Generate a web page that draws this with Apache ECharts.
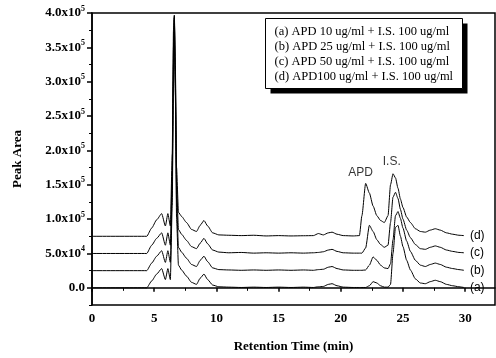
<!DOCTYPE html>
<html><head><meta charset="utf-8">
<script src="https://cdn.jsdelivr.net/npm/echarts@6/dist/echarts.min.js"></script>
<style>html,body{margin:0;padding:0;background:#fff}#c{width:496px;height:358px}</style>
</head><body><div id="c"></div>
<script>
// Retention time samples (min)
const times = [0,4.4,4.8,5.2,5.6,5.9,6.1,6.3,6.45,6.55,6.62,6.7,6.8,6.95,7.2,7.6,8.0,8.4,8.7,9.0,9.3,9.7,10.2,11,12,13,14,15,16,17,17.8,18.2,18.6,19.0,19.3,19.7,20.2,21.0,21.5,21.7,22.0,22.3,22.6,22.9,23.2,23.5,23.8,24.0,24.2,24.4,24.6,24.8,25.0,25.3,25.6,26.0,26.4,26.8,27.2,27.6,28.0,28.5,29.0,29.5,29.9];
// Signals (peak area) of each trace above its own baseline
const traceA = [0,0,10000,20000,28000,12000,28000,12000,120000,300000, 390000,280000,100000,33000,26000,17000,8000,5000,14000,20000, 12000,4000,1500,1000,500,1000,500,1000,500,1000, 500,1500,2000,5000,6000,3000,1000,500,500,500, 500,3000,9000,7000,3000,1000,1000,5000,50000,88000, 91000,75000,60000,40000,26000,13000,7000,6000,9000,11000, 9000,5000,3000,1500,500];
const traceB = [0,0,11000,21000,29000,12000,29000,12000,120000,300000, 368000,270000,100000,34000,27000,18000,9000,6000,15000,21000, 13000,4000,1500,1000,500,1000,500,1000,500,1000, 500,1500,2000,5000,6000,3000,1000,500,500,500, 1000,8000,20000,15000,8000,4000,3000,10000,45000,80000, 86000,76000,62000,43000,28000,15000,8000,6000,9000,11000, 9000,5000,3000,1500,500];
const traceC = [0,0,12000,22000,30000,12000,30000,12000,120000,300000, 345000,260000,100000,35000,28000,19000,10000,7000,15000,22000, 14000,5000,2000,1000,1500,500,1000,500,1000,500, 1000,1500,2500,5000,6000,3000,1000,500,500,500, 8000,41000,32000,20000,13000,9000,12000,45000,82000,89000, 80000,64000,50000,34000,23000,13000,7000,6000,9000,11000, 9000,5000,3000,1500,1000];
const traceD = [0,0,12000,24000,33000,15000,33000,15000,120000,300000, 322000,250000,100000,35000,29000,20000,10000,7000,16000,23000, 15000,5000,2000,1500,1000,1500,500,1000,500,800, 1000,4000,2000,5000,6000,3000,1000,500,1000,30000, 77000,63000,44000,30000,23000,20000,30000,75000,91000,85000, 70000,54000,42000,28000,20000,11000,7000,6000,9000,11000, 9000,5000,3000,1500,1000];
const traceOffsets = [0, 25000, 50000, 75000];
const traceLabels = ['(a)', '(b)', '(c)', '(d)'];
const legendLines = ['(a) APD 10 ug/ml + I.S. 100 ug/ml','(b) APD 25 ug/ml + I.S. 100 ug/ml','(c) APD 50 ug/ml + I.S. 100 ug/ml','(d) APD100 ug/ml + I.S. 100 ug/ml'];
const peakNames = ['APD', 'I.S.'];
const peakNameAt = [[21.6, 168000], [24.1, 184000]];
// Axis ticks
const yTickValues = [0,50000,100000,150000,200000,250000,300000,350000,400000];
const yTickMantissa = ['0.0','5.0','1.0','1.5','2.0','2.5','3.0','3.5','4.0'];
const yTickExponent = ['','4','5','5','5','5','5','5','5'];
const yMinorTicks = [-25000,25000,75000,125000,175000,225000,275000,325000,375000];
const xTickValues = [0,5,10,15,20,25,30];
const xMinorTicks = [2.5,7.5,12.5,17.5,22.5,27.5];

const traces = [traceA, traceB, traceC, traceD];
const serif = "'Liberation Serif','Times New Roman',serif";
const sans = "'Liberation Sans',Arial,sans-serif";
const chart = echarts.init(document.getElementById('c'), null, {renderer: 'canvas'});

const lineSeries = traces.map((tr, i) => ({
  type: 'line',
  xAxisIndex: 0, yAxisIndex: 0,
  data: times.map((t, k) => [t, tr[k] + traceOffsets[i]]),
  showSymbol: false, symbol: 'none',
  smooth: 0.2, smoothMonotone: 'x',
  lineStyle: {color: '#000', width: 1},
  z: 3 + i,
  silent: true,
  endLabel: {show: true, formatter: () => traceLabels[i], distance: 6,
    fontFamily: sans, fontSize: 12, color: '#000'}
}));

const option = {
  animation: false,
  backgroundColor: '#fff',
  grid: {left: 92, right: 1, top: 13, bottom: 47, show: true, borderColor: '#000', borderWidth: 1.5, backgroundColor: 'transparent'},
  xAxis: [{
    type: 'value', min: 0, max: 32.4, position: 'bottom',
    name: 'Retention Time (min)', nameLocation: 'middle', nameGap: 35,
    nameTextStyle: {fontFamily: serif, fontWeight: 'bold', fontSize: 13, color: '#000'},
    axisLine: {show: true, lineStyle: {color: '#000', width: 1.5}},
    axisTick: {show: true, customValues: xTickValues, length: 4, lineStyle: {color: '#000', width: 1.5}},
    axisLabel: {show: true, customValues: xTickValues, margin: 7, fontFamily: serif, fontWeight: 'bold', fontSize: 13, color: '#000'},
    splitLine: {show: false}
  }, {
    type: 'value', min: 0, max: 32.4, position: 'bottom',
    axisLine: {show: false},
    axisTick: {show: true, customValues: xMinorTicks, length: 3, lineStyle: {color: '#000', width: 1}},
    axisLabel: {show: false}, splitLine: {show: false}
  }],
  yAxis: [{
    type: 'value', min: -25000, max: 400000, position: 'left',
    name: 'Peak Area', nameLocation: 'middle', nameGap: 68, nameRotate: 90,
    nameTextStyle: {fontFamily: serif, fontWeight: 'bold', fontSize: 13, color: '#000'},
    axisLine: {show: true, lineStyle: {color: '#000', width: 1.5}},
    axisTick: {show: true, customValues: yTickValues, length: 5, lineStyle: {color: '#000', width: 1.5}},
    axisLabel: {
      show: true, customValues: yTickValues, margin: 7,
      formatter: (v) => {
        const k = yTickValues.indexOf(v);
        if (k < 0) return '';
        return yTickExponent[k] ? '{m|' + yTickMantissa[k] + 'x10}{e|' + yTickExponent[k] + '}' : '{m|' + yTickMantissa[k] + '}';
      },
      rich: {
        m: {fontFamily: serif, fontWeight: 'bold', fontSize: 13, color: '#000'},
        e: {fontFamily: serif, fontWeight: 'bold', fontSize: 8, color: '#000', padding: [0, 0, 9, 0]}
      }
    },
    splitLine: {show: false}
  }, {
    type: 'value', min: -25000, max: 400000, position: 'left',
    axisLine: {show: false},
    axisTick: {show: true, customValues: yMinorTicks, length: 3, lineStyle: {color: '#000', width: 1}},
    axisLabel: {show: false}, splitLine: {show: false}
  }],
  series: lineSeries.concat([{
    type: 'scatter', xAxisIndex: 0, yAxisIndex: 0,
    data: peakNameAt, symbolSize: 1, itemStyle: {color: 'transparent'}, silent: true,
    label: {show: true, position: 'inside', formatter: (p) => peakNames[p.dataIndex],
      fontFamily: sans, fontSize: 12, color: '#000'}
  }]),
  graphic: [{
    type: 'group', left: 265, top: 18, z: 100,
    children: [
      {type: 'rect', shape: {x: 5, y: 5, width: 197, height: 70}, style: {fill: '#000'}},
      {type: 'rect', shape: {x: 0, y: 0, width: 197, height: 70}, style: {fill: '#fff', stroke: '#000', lineWidth: 1}}
    ].concat(legendLines.map((s, i) => ({
      type: 'text', x: 9, y: 7 + 15 * i,
      style: {text: s, fontFamily: serif, fontSize: 12.5, fill: '#000'}
    })))
  }]
};
chart.setOption(option);
</script>
</body></html>
